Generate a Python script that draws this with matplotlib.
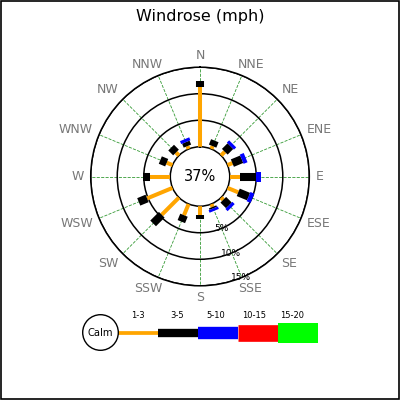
import numpy as np
import matplotlib
matplotlib.use('Agg')
import matplotlib.pyplot as plt
from matplotlib.patches import Circle, Rectangle
from matplotlib.textpath import TextPath
from matplotlib.font_manager import FontProperties

# Wind rose values (percent of observations)
directions = ['N', 'NNE', 'NE', 'ENE', 'E', 'ESE', 'SE', 'SSE',
              'S', 'SSW', 'SW', 'WSW', 'W', 'WNW', 'NW', 'NNW']
calm = 37
speed_bins = ['1-3', '3-5', '5-10', '10-15', '15-20']
pct_1_3 = [11.2, 0.6, 1.0, 1.0, 2.0, 2.2, 0.6, 0.6, 1.7, 2.3, 4.6, 5.2, 3.9, 1.2, 0.8, 0.6]
pct_3_5 = [1.2, 1.1, 1.5, 1.9, 3.0, 2.1, 1.5, 0.3, 0.8, 1.3, 2.3, 1.7, 1.3, 1.3, 1.3, 0.8]
pct_5_10 = [0, 0, 0.6, 0.8, 0.8, 0.8, 0.6, 0.5, 0, 0, 0, 0, 0, 0, 0, 0.6]
ring_ticks = [5, 10, 15]

bin_colors = ['#FFA500', 'black', '#0000FF', '#FF0000', '#00FF00']
rose_widths = [2.9, 5.8, 7.2]
legend_widths = [2.7, 6.0, 8.9, 12.0, 14.4]

fig = plt.figure(figsize=(4, 4), dpi=100)
ax = fig.add_axes([0.2268, 0.2855, 0.5465, 0.5465], projection='polar')
ax.set_theta_zero_location('N')
ax.set_theta_direction(-1)
ax.set_rlim(0, 15)
ax.set_rorigin(-5.6)

theta = np.deg2rad(np.arange(len(directions)) * 22.5)

# stacked radial segments
bottom = np.zeros(len(directions))
for vals, color, lw in zip([pct_1_3, pct_3_5, pct_5_10], bin_colors, rose_widths):
    vals = np.array(vals)
    mask = vals > 0
    ax.vlines(theta[mask], bottom[mask], (bottom + vals)[mask],
              colors=color, linewidth=lw, zorder=3)
    bottom = bottom + vals

ax.set_thetagrids(np.arange(len(directions)) * 22.5, [''] * len(directions))
ax.set_rgrids(ring_ticks, labels=['', '', ''])
ax.xaxis.grid(True, color='green', linestyle='--', linewidth=0.6, alpha=0.8)
ax.yaxis.grid(True, color='black', linestyle='-', linewidth=1.1)
for name in ['polar', 'inner']:
    ax.spines[name].set_linewidth(1.1)
    ax.spines[name].set_color('black')

# compass labels pushed outward from the ring
fp = FontProperties(family='DejaVu Sans')
for t, lab in zip(theta, directions):
    w = TextPath((0, 0), lab, size=9, prop=fp).get_extents().width
    sx = np.clip(1.4 * np.sin(t), -1, 1)
    sy = np.clip(1.4 * np.cos(t), -1, 1)
    ax.annotate(lab, xy=(t, 16.36), xytext=(sx * w / 2, sy * 3.4),
                textcoords='offset points', ha='center', va='center',
                fontsize=9, color='#777777', annotation_clip=False)

for r in ring_ticks:
    ax.text(np.deg2rad(158), r - 0.1 * (r == 15), f'{r}%', fontsize=6.5,
            ha='center', va='center')

ax.text(0.5, 0.5, f'{calm}%', transform=ax.transAxes, fontsize=10.5,
        ha='center', va='center')

fig.text(0.5, 1 - 16 / 400, 'Windrose (mph)', fontsize=11.5,
         ha='center', va='center')

# legend drawn in pixel space
lg = fig.add_axes([0, 0, 1, 1], zorder=-1)
lg.set_xlim(0, 400)
lg.set_ylim(400, 0)
lg.axis('off')
lg.add_patch(Circle((100.5, 332.5), 17.8, facecolor='white',
                    edgecolor='black', linewidth=1, zorder=3))
lg.text(100.5, 333, 'Calm', fontsize=7.2, ha='center', va='center', zorder=4)
x0 = 118.3
for i, (lab, color, lw) in enumerate(zip(speed_bins, bin_colors, legend_widths)):
    xs = x0 + 40 * i if i else 100.5
    lg.plot([xs, x0 + 40 * (i + 1)], [332.5, 332.5], color=color,
            linewidth=lw, solid_capstyle='butt', zorder=2)
    lg.text(x0 + 40 * i + 20 - 1.5 * i, 316, lab, fontsize=6,
            ha='center', va='center')

fig.add_artist(Rectangle((0.0015, 0.0015), 0.997, 0.997, fill=False,
                         edgecolor='black', linewidth=1.2,
                         transform=fig.transFigure))

fig.savefig('out.png', dpi=100)
